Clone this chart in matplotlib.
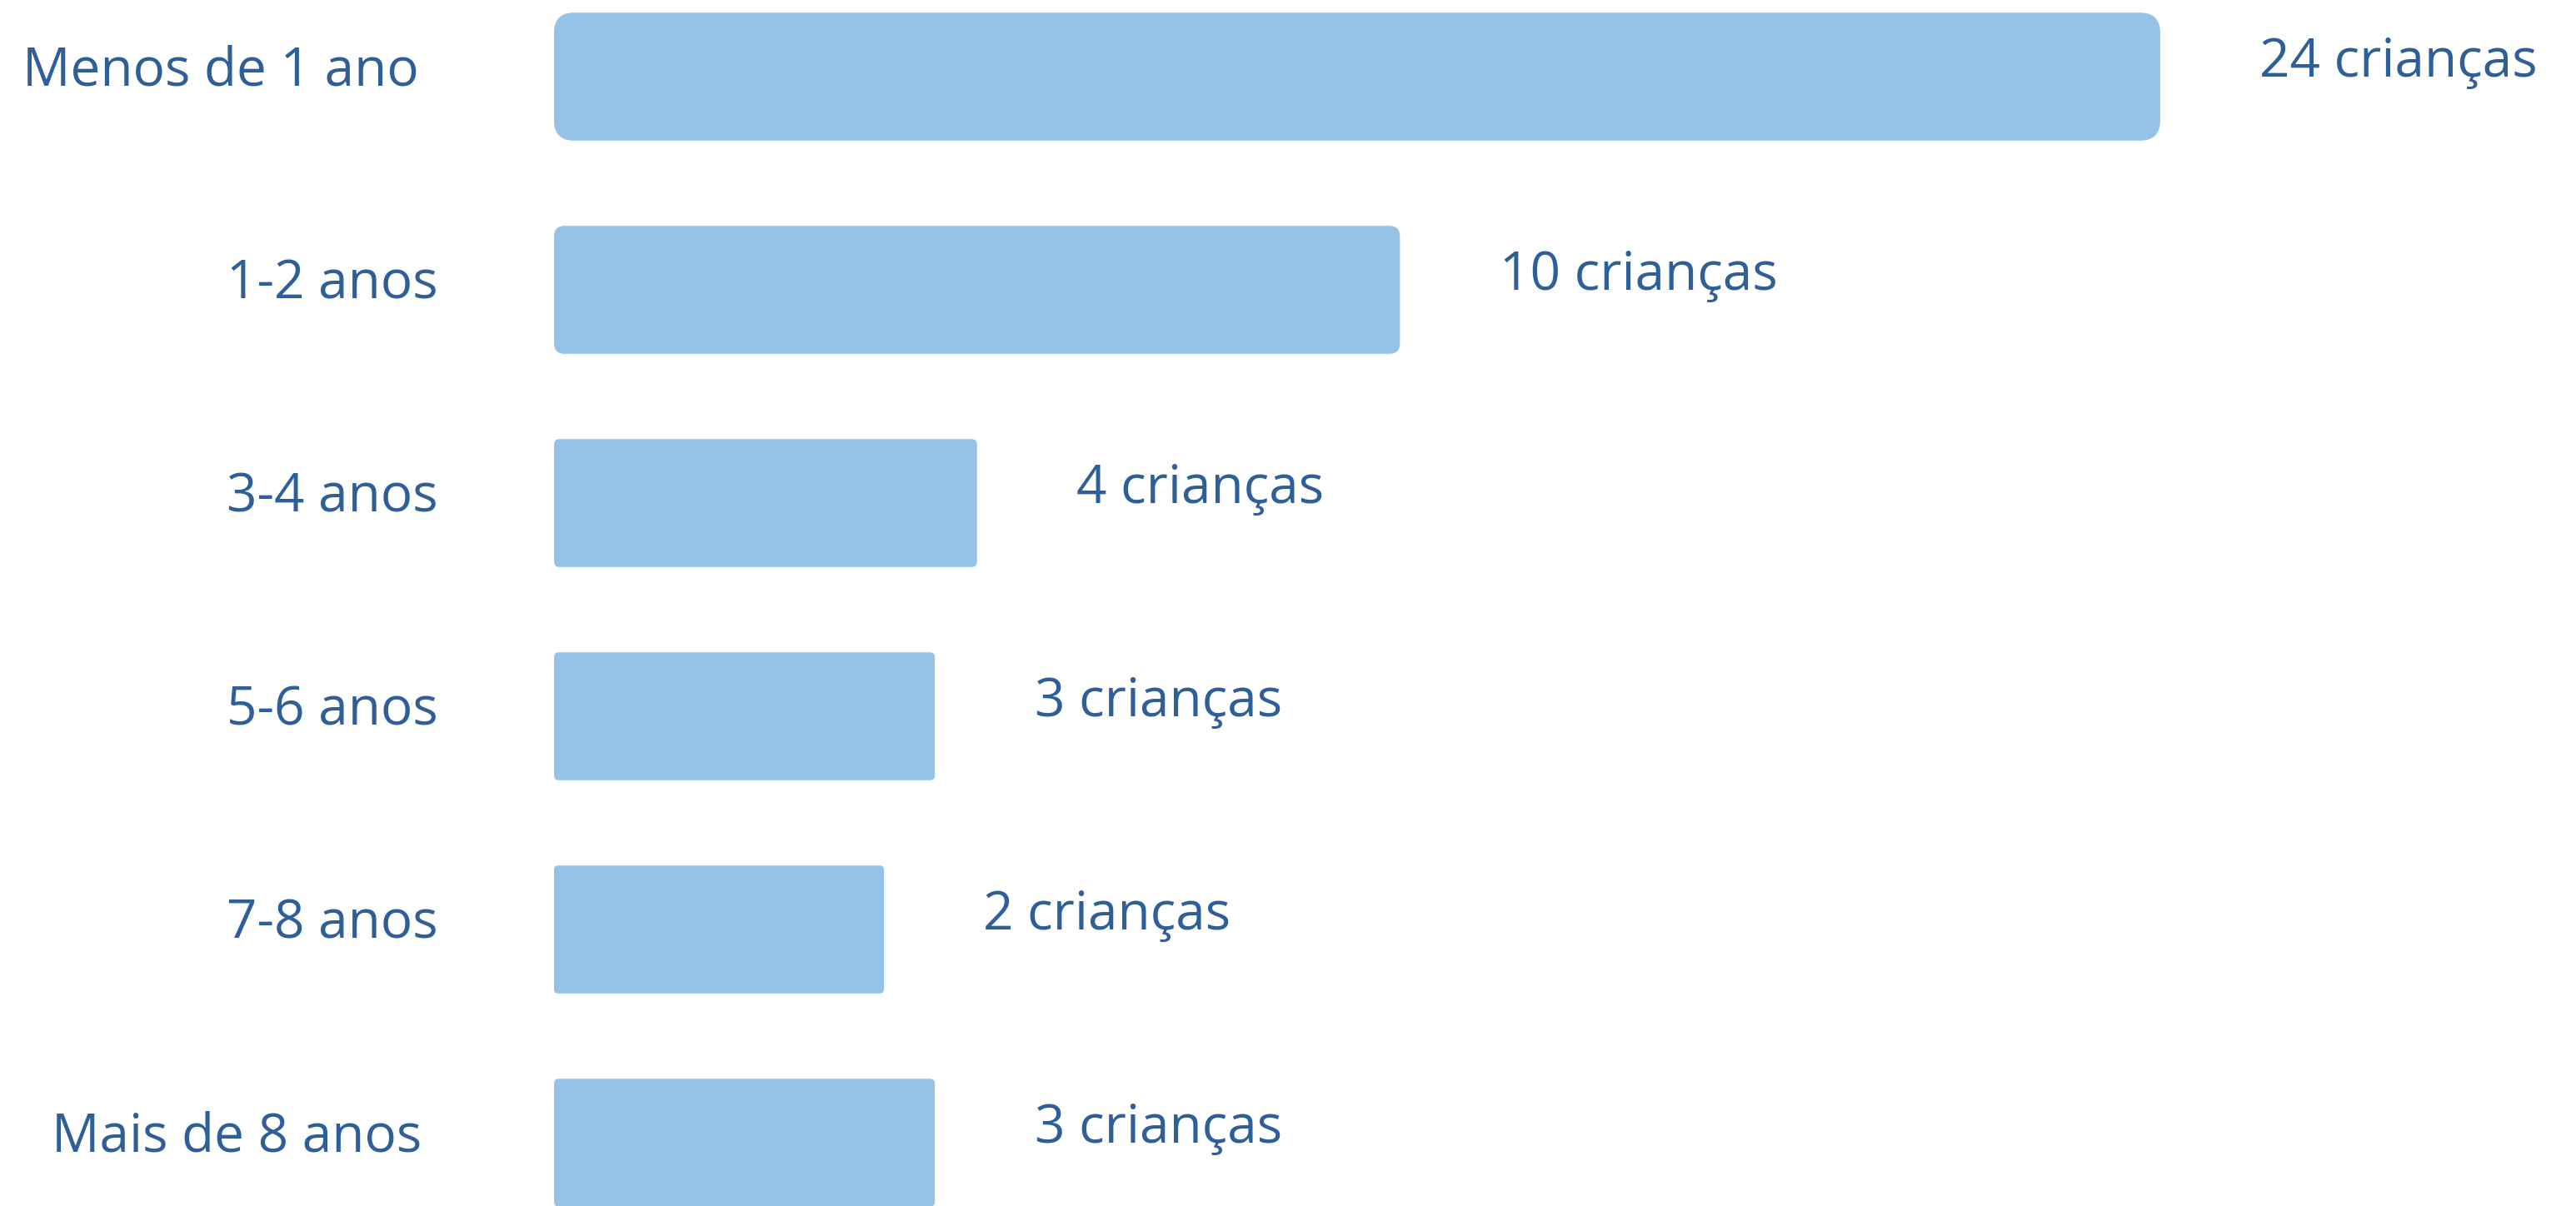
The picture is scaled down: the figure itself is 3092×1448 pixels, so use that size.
import matplotlib.pyplot as plt
from matplotlib.patches import FancyBboxPatch

# age groups and number of children
categories = ["Menos de 1 ano", "1-2 anos", "3-4 anos", "5-6 anos", "7-8 anos", "Mais de 8 anos"]
counts = [24, 10, 4, 3, 2, 3]
# bar lengths as drawn in the original (not proportional to counts)
bar_length = [24, 12.64, 6.32, 5.69, 4.93, 5.69]
value_labels = [f"{c} crianças" for c in counts]

# small per-label tweaks of the category text (points from bar start)
label_shift = [-117, -100, -100, -100, -100, -114]

BAR = "#97C2E7"
TXT = "#2E5F99"

plt.rcParams['font.family'] = ['Open Sans', 'DejaVu Sans']

fig = plt.figure(figsize=(30.92, 14.48), dpi=100)
ax = fig.add_axes([0, 0, 1, 1])

px_x = 80.33   # pixels per x unit
px_y = 256.0   # pixels per row
ax.set_xlim(-665 / px_x, (3092 - 665) / px_x)
ax.set_ylim((1448 - 92) / px_y, -92 / px_y)
ax.axis('off')

h = 0.6
aspect = (1 / px_y) / (1 / px_x)
for i, (ln, lab, cat) in enumerate(zip(bar_length, value_labels, categories)):
    r = ln / px_x  # corner radius grows a bit with the bar
    ax.add_patch(FancyBboxPatch((0, i - h / 2), ln, h,
                                boxstyle=f"round,pad=0,rounding_size={r}",
                                mutation_aspect=aspect, fc=BAR, ec='none'))
    ax.annotate(lab, xy=(ln, i), xytext=(86, 12), textcoords='offset points',
                ha='left', va='center', fontsize=46, color=TXT)
    ax.annotate(cat, xy=(0, i), xytext=(label_shift[i], 5), textcoords='offset points',
                ha='right', va='center', fontsize=46, color=TXT)

fig.savefig("out.png", dpi=100, facecolor='white')
